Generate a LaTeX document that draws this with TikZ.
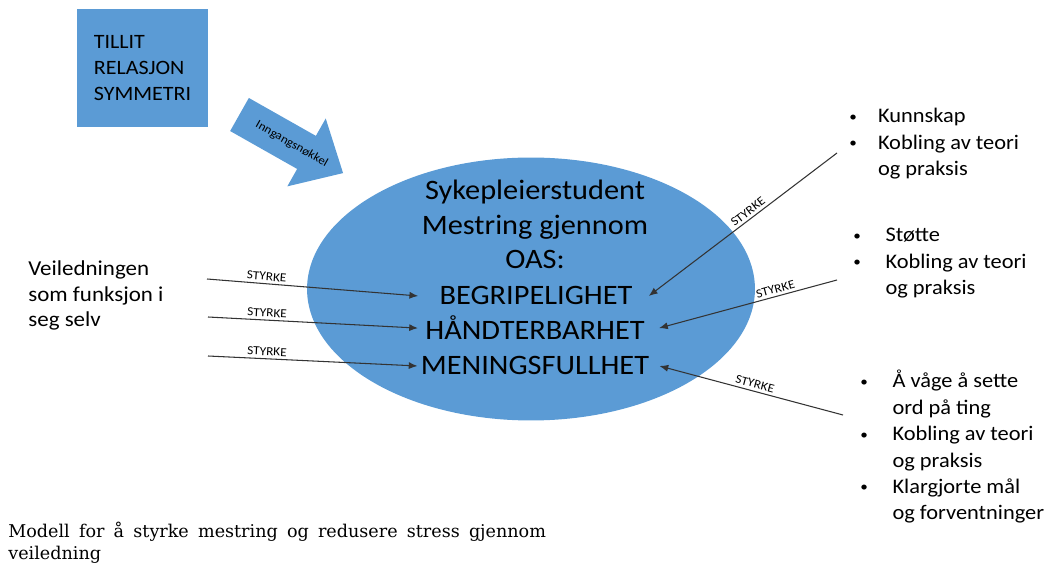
\documentclass[tikz,border=0pt]{standalone}
\usepackage{fontspec}
\newfontfamily\calib[FakeStretch=1.08]{Carlito}
\newfontfamily\capserif{DejaVu Serif}
\usetikzlibrary{%
    arrows.meta,
    shapes.geometric,
    calc
}
\definecolor{oasblue}{HTML}{5B9BD5}
\newcommand{\pkt}{\raisebox{0.9pt}{\fontsize{8}{8}\selectfont\textbullet}}

\begin{document}
\begin{tikzpicture}[x=0.02cm, y=-0.02cm,
    box/.style={fill=oasblue, draw=none},
    caps/.style={font=\calib\fontsize{16}{19.8}\selectfont, inner sep=0pt, anchor=base},
    side/.style={font=\calib\fontsize{11.8}{15}\selectfont, inner sep=0pt, anchor=base west},
    conn/.style={draw=black!80, line width=0.6pt, -{Latex[length=5pt,width=4pt]}},
    styrke/.style={font=\calib\fontsize{7}{8.5}\selectfont, sloped, above, inner sep=1.5pt}]
      \useasboundingbox (0,0) rectangle (1052,567);

      % boks oppe til venstre
      \node[box, minimum width=2.62cm, minimum height=2.36cm, align=left,
        font=\calib\fontsize{11.6}{14.7}\selectfont] (tillit) at (142.5,68) {TILLIT\\RELASJON\\SYMMETRI};

      % inngangsnokkel-pil
      \begin{scope}[shift={(239.5,114.5)}, rotate=-29.5]
        \fill[oasblue] (0,-19) -- (77,-19) -- (77,-39) -- (119,0) -- (77,39) -- (77,19) -- (0,19) -- cycle;
        \node[rotate=-29.5, inner sep=0pt, font=\calib\fontsize{6.8}{8}\selectfont] (nokkel) at (60,0) {Inngangsnøkkel};
      \end{scope}

      % ellipsen
      \node[box, ellipse, minimum width=8.96cm, minimum height=5.26cm] (oas) at (531,289) {};
      \node[caps] (syk) at (535,200) {Sykepleierstudent};
      \node[caps] (mest) at (535,235) {Mestring gjennom};
      \node[caps] (oaslbl) at (535,269) {OAS:};
      \node[caps] (begrip) at (536,305) {BEGRIPELIGHET};
      \node[caps] (hand) at (535,340) {HÅNDTERBARHET};
      \node[caps] (mening) at (535,375) {MENINGSFULLHET};

      % venstre side
      \node[side, font=\calib\fontsize{12.1}{14.3}\selectfont] (veil) at (28,276)
        {\begin{tabular}[t]{@{}l@{}}Veiledningen\\som funksjon i\\seg selv\end{tabular}};
      \coordinate (v1) at (207,279);
      \coordinate (v2) at (208,317);
      \coordinate (v3) at (208,356);
      \draw[conn] (v1) -- node[styrke, pos=0.28] {STYRKE} ([xshift=-0.42cm]begrip.west);
      \draw[conn] (v2) -- node[styrke, pos=0.28] {STYRKE} ([xshift=-0.14cm]hand.west);
      \draw[conn] (v3) -- node[styrke, pos=0.28] {STYRKE} ([xshift=-0.06cm]mening.west);

      % hoyre side
      \node[side] (kunn) at (849,123) {\begin{tabular}[t]{@{}l@{\hspace{12pt}}l@{}}\pkt & Kunnskap\\ \pkt & Kobling av teori\\ & og praksis\end{tabular}};
      \node[side] (stotte) at (853,242) {\begin{tabular}[t]{@{}l@{\hspace{14pt}}l@{}}\pkt & Støtte\\ \pkt & Kobling av teori\\ & og praksis\end{tabular}};
      \node[side] (vage) at (860,388) {\begin{tabular}[t]{@{}l@{\hspace{14pt}}l@{}}\pkt & Å våge å sette\\ & ord på ting\\ \pkt & Kobling av teori\\ & og praksis\\ \pkt & Klargjorte mål\\ & og forventninger\end{tabular}};
      \coordinate (k1) at (837,153);
      \coordinate (k2) at (837,280);
      \coordinate (k3) at (843,415);
      \draw[conn] (k1) -- node[styrke, pos=0.45] {STYRKE} ([xshift=0.32cm]begrip.east);
      \draw[conn] (k2) -- node[styrke, pos=0.335] {STYRKE} ([xshift=0.28cm]hand.east);
      \draw[conn] (k3) -- node[styrke, pos=0.49] {STYRKE} ([xshift=0.2cm]mening.east);

      % bildetekst
      \node[anchor=base west, inner sep=0pt, font=\capserif\fontsize{10}{12.5}\selectfont] (modell) at (8,538)
        {\begin{tabular}[t]{@{}l@{}}\makebox[306pt][s]{Modell for å styrke mestring og redusere stress gjennom}\\veiledning\end{tabular}};
    \end{tikzpicture}
\end{document}
